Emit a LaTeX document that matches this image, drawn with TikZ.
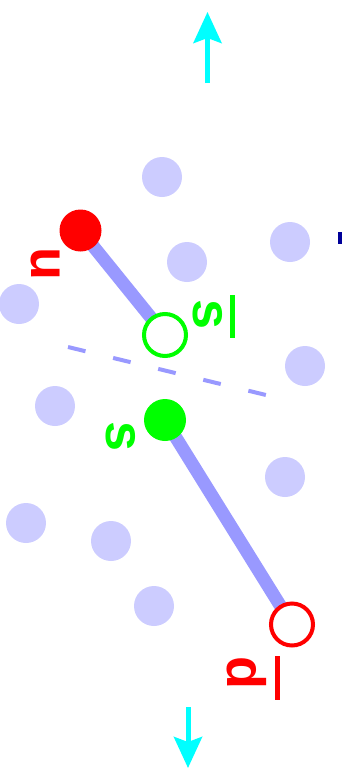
\documentclass[tikz,border=0pt]{standalone}
\usepackage{fontspec}
\setmainfont{Liberation Sans}
\usetikzlibrary{arrows.meta,calc,backgrounds}
\definecolor{bgdot}{HTML}{CCCCFF}
\definecolor{strline}{HTML}{9999FF}
\definecolor{qred}{HTML}{FF0000}
\definecolor{qgreen}{HTML}{00FF00}
\definecolor{acyan}{HTML}{00FFFF}
\definecolor{dkblue}{HTML}{000099}
\tikzset{
  bgball/.style={circle,fill=bgdot,minimum size=40pt,inner sep=0pt},
  quark/.style={circle,fill=#1,minimum size=42pt,inner sep=0pt},
  antiquark/.style={circle,draw=#1,fill=white,line width=4pt,minimum size=42pt,inner sep=0pt},
  string/.style={strline,line width=13pt},
  cut/.style={strline,line width=4pt,dash pattern=on 18pt off 28.4pt},
  lbl/.style={text=#1,font=\fontsize{54}{54}\selectfont\bfseries,rotate=-90,inner sep=0pt},
  barline/.style={#1,line width=5pt},
  flow/.style={acyan,line width=5pt,-{Stealth[length=31pt,width=28pt,inset=5pt]}}
}
\begin{document}
\begin{tikzpicture}[x=1pt,y=-1pt]
\useasboundingbox (0,0) rectangle (341,769);
% background balls
\node[bgball] (b1) at (162,177) {};
\node[bgball] (b2) at (290,242) {};
\node[bgball] (b3) at (187,262) {};
\node[bgball] (b4) at (19,304) {};
\node[bgball] (b5) at (305,366) {};
\node[bgball] (b6) at (55,406) {};
\node[bgball] (b7) at (285,477) {};
\node[bgball] (b8) at (26,523) {};
\node[bgball] (b9) at (111,541) {};
\node[bgball] (b10) at (154,606) {};
% partially visible mark at right edge
\fill[dkblue] (338,232) rectangle (342,244);
% quarks
\node[quark=qred] (u) at (80.5,230.5) {};
\node[antiquark=qgreen] (sb) at (165,335) {};
\node[quark=qgreen] (s) at (165,420) {};
\node[antiquark=qred] (db) at (292,624.5) {};
\begin{pgfonlayer}{background}
\draw[string] (u.center) -- (sb.center);
\draw[string] (s.center) -- (db.center);
\end{pgfonlayer}
% cut line
\coordinate (c1) at (68,347);
\coordinate (c2) at (266,395);
\draw[cut] (c1) -- (c2);
% labels
\node[lbl=qred] (ul) at (46,264) {u};
\node[lbl=qgreen] (sbl) at (208,315) {s};
\draw[barline=qgreen] ($(sbl.center)+(24.5,-20)$) -- ($(sbl.center)+(24.5,23)$);
\node[lbl=qgreen] (sl) at (121,437) {s};
\node[lbl=qred] (dbl) at (247,673) {d};
\draw[barline=qred] ($(dbl.center)+(30.5,-17)$) -- ($(dbl.center)+(30.5,27)$);
% flow arrows
\coordinate (t1) at (207.5,83);
\coordinate (t2) at (207.5,12);
\draw[flow] (t1) -- (t2);
\coordinate (d1) at (188,707);
\coordinate (d2) at (188,768);
\draw[flow] (d1) -- (d2);
\end{tikzpicture}
\end{document}
